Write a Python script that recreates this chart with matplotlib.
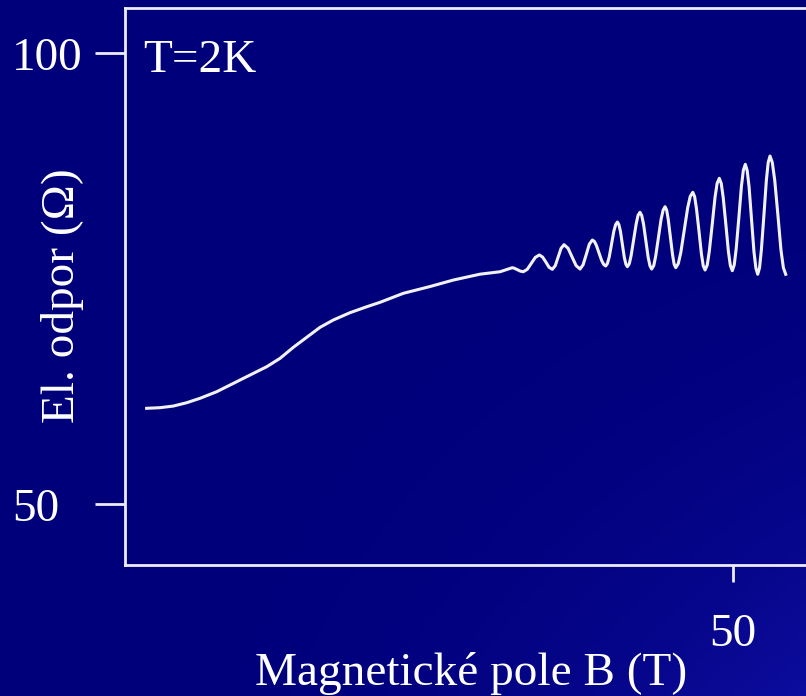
import numpy as np
import matplotlib.pyplot as plt
from matplotlib.transforms import blended_transform_factory, ScaledTranslation

# magnetic field B (T) and resistance R (Ohm)
field = [1.78, 2.88, 3.97, 5.07, 6.17, 7.54, 8.91, 10.28, 11.65, 12.75, 13.84, 14.94,
         16.04, 17.13, 18.50, 19.88, 20.97, 22.89, 25.08, 27.0, 29.19, 30.84,
         31.85, 32.03, 32.27, 32.51, 32.75, 33.08, 33.41, 33.74, 34.07,
         34.34, 34.61, 34.87, 35.14, 35.38, 35.62, 35.86, 36.10,
         36.43, 36.76, 37.09, 37.42, 37.67, 37.93, 38.18, 38.43,
         38.60, 38.76, 38.98, 39.20, 39.37, 39.53,
         39.67, 39.82, 40.01, 40.20, 40.35, 40.49,
         40.61, 40.74, 40.90, 41.06, 41.19, 41.31,
         41.47, 41.62, 41.83, 42.04, 42.19, 42.35,
         42.49, 42.64, 42.83, 43.02, 43.17, 43.31,
         43.48, 43.64, 43.86, 44.08, 44.25, 44.41,
         44.54, 44.67, 44.85, 45.03, 45.16, 45.29,
         45.50, 45.71, 45.99, 46.27, 46.48, 46.69,
         46.84, 46.99, 47.20, 47.40, 47.55, 47.70,
         47.88, 48.05, 48.29, 48.52, 48.69, 48.87,
         49.03, 49.19, 49.41, 49.62, 49.78, 49.94,
         50.10, 50.26, 50.48, 50.69, 50.85, 51.01,
         51.16, 51.32, 51.52, 51.72, 51.88, 52.03,
         52.18, 52.33, 52.54, 52.74, 52.89, 53.04,
         53.23, 53.43, 53.69, 53.94, 54.14, 54.33]
resistance = [60.61, 60.68, 60.86, 61.23, 61.72, 62.45, 63.38, 64.30, 65.22, 66.15, 67.37, 68.48,
              69.59, 70.40, 71.21, 71.87, 72.36, 73.36, 74.11, 74.83, 75.48, 75.75,
              76.20, 76.13, 75.98, 75.82, 75.75, 76.02, 76.68, 77.34, 77.61,
              77.38, 76.82, 76.25, 76.02, 76.42, 77.39, 78.35, 78.75,
              78.36, 77.40, 76.44, 76.05, 76.52, 77.66, 78.80, 79.27,
              79.11, 78.68, 77.83, 76.98, 76.55, 76.39,
              76.66, 77.39, 78.83, 80.26, 80.99, 81.26,
              80.99, 80.24, 78.79, 77.33, 76.58, 76.31,
              76.64, 77.55, 79.33, 81.10, 82.01, 82.34,
              81.99, 81.04, 79.20, 77.35, 76.40, 76.05,
              76.43, 77.47, 79.51, 81.54, 82.58, 82.96,
              82.59, 81.57, 79.58, 77.59, 76.57, 76.20,
              76.66, 77.92, 80.38, 82.84, 84.10, 84.56,
              84.09, 82.78, 80.25, 77.72, 76.41, 75.94,
              76.50, 78.04, 81.03, 84.02, 85.55, 86.11,
              85.55, 84.00, 80.99, 77.98, 76.43, 75.87,
              76.52, 78.30, 81.77, 85.23, 87.01, 87.66,
              86.99, 85.15, 81.57, 77.98, 76.14, 75.47,
              76.19, 78.17, 82.03, 85.88, 87.86, 88.58,
              87.86, 85.88, 82.03, 78.17, 76.19, 75.47]

yticks = [50, 100]
ytick_labels = ['50', '100']
xticks = [50]
xtick_labels = ['50']

fg = '#ececf2'
serif = ['Liberation Serif', 'DejaVu Serif']
plt.rcParams['font.family'] = serif

fig = plt.figure(figsize=(8.06, 6.96), dpi=100)

# navy background, a little brighter towards the lower right corner
bg = fig.add_axes([0, 0, 1, 1], zorder=-10)
gx, gy = np.meshgrid(np.linspace(0, 1, 200), np.linspace(0, 1, 200))
t = (gx * gy) ** 2.5
img = np.dstack([0.05 * t, 0.05 * t, 0.48 + 0.14 * t])
bg.imshow(img, aspect='auto', extent=[0, 1, 1, 0])
bg.axis('off')

ax = fig.add_axes([125 / 806, 1 - 565 / 696, 1 - 125 / 806, (565 - 8) / 696])
ax.set_facecolor('none')
ax.plot(field, resistance, color='#f2f2f6', lw=2.2, solid_joinstyle='round')

ax.set_xlim(0, 56.0)
ax.set_ylim(43.24, 104.99)

for s in ['left', 'top', 'bottom']:
    ax.spines[s].set_color(fg)
    ax.spines[s].set_linewidth(2.0)
ax.spines['right'].set_visible(False)

ax.set_yticks(yticks)
ax.set_yticklabels([])
ax.tick_params(axis='y', length=21.5, width=2.0, color=fg)
ax.set_xticks(xticks)
ax.set_xticklabels([])
ax.tick_params(axis='x', length=12, width=2.0, color=fg)

# tick labels are left aligned in the original, baseline ~17 px below the tick
ytr = blended_transform_factory(fig.transFigure, ax.transData) + \
    ScaledTranslation(0, -17 / 100, fig.dpi_scale_trans)
for v, lab in zip(yticks, ytick_labels):
    ax.text(12 / 806, v, lab, transform=ytr, ha='left', va='baseline',
            fontsize=34, color='white')
xtr = blended_transform_factory(ax.transData, fig.transFigure)
for v, lab in zip(xticks, xtick_labels):
    ax.text(v, 1 - 646 / 696, lab, transform=xtr, ha='center', va='baseline',
            fontsize=34, color='white')

fig.text(471 / 806, 1 - 685 / 696, 'Magnetické pole B (T)', ha='center', va='baseline',
         fontsize=34, color='white')
fig.text(63 / 806, 1 - 296 / 696, 'El. odpor (Ω)', rotation=90, ha='center', va='center',
         fontsize=34, color='white')
ax.text(143 / 806, 1 - 72 / 696, 'T=2K', transform=fig.transFigure, ha='left',
        va='baseline', fontsize=34, color='white')

fig.savefig('out.png', dpi=100)
